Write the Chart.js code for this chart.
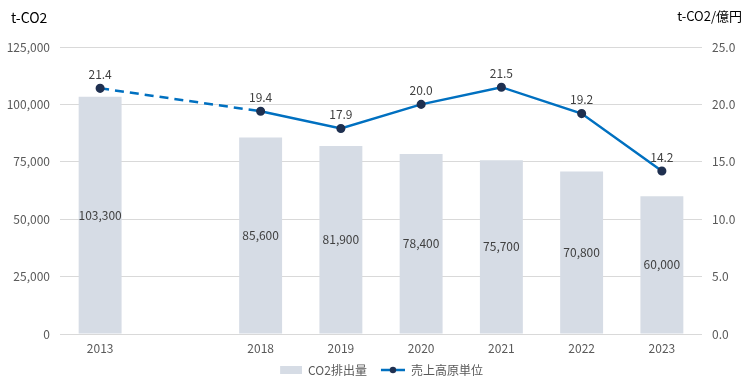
<!DOCTYPE html>
<html><head><meta charset="utf-8">
<script src="https://cdn.jsdelivr.net/npm/chart.js@4"></script>
<style>html,body{margin:0;padding:0;background:#fff;}#wrap{width:753px;height:387px;}</style>
</head><body><div id="wrap"><canvas id="c" width="753" height="387"></canvas></div>
<script>
const categories = ['2013', '', '2018', '2019', '2020', '2021', '2022', '2023'];
const co2Emissions = [103300, null, 85600, 81900, 78400, 75700, 70800, 60000];
const intensity = [21.4, null, 19.4, 17.9, 20.0, 21.5, 19.2, 14.2];
const leftTicks = [0, 25000, 50000, 75000, 100000, 125000];
const rightTicks = [0, 5, 10, 15, 20, 25];
const seriesNames = ['CO2排出量', '売上高原単位'];
const axisTitles = ['t-CO2', 't-CO2/億円'];

const FONT = '"Noto Sans CJK JP", "Noto Sans", sans-serif';
const BAR_COLOR = '#D6DCE5';
const LINE_COLOR = '#0070C0';
const POINT_COLOR = '#1F3050';

function makeIcon(kind) {
  const cv = document.createElement('canvas');
  cv.width = 32; cv.height = 8;
  const g = cv.getContext('2d');
  if (kind === 'bar') {
    g.fillStyle = BAR_COLOR; g.fillRect(10, 0, 22, 8);
  } else {
    g.strokeStyle = LINE_COLOR; g.lineWidth = 2.5;
    g.beginPath(); g.moveTo(8, 4); g.lineTo(32, 4); g.stroke();
    g.fillStyle = POINT_COLOR; g.beginPath(); g.arc(20, 4, 3.2, 0, Math.PI * 2); g.fill();
  }
  return cv;
}

const labelPlugin = {
  id: 'labels',
  afterDatasetsDraw(chart) {
    const ctx = chart.ctx;
    ctx.save();
    ctx.font = '12px ' + FONT;
    ctx.fillStyle = '#404040';
    ctx.textAlign = 'center';
    ctx.textBaseline = 'middle';
    const barMeta = chart.getDatasetMeta(1);
    barMeta.data.forEach((el, i) => {
      const v = co2Emissions[i];
      if (v == null) return;
      const yMid = (el.y + el.base) / 2;
      ctx.fillText(v.toLocaleString('en-US'), el.x, yMid);
    });
    const lineMeta = chart.getDatasetMeta(0);
    lineMeta.data.forEach((el, i) => {
      const v = intensity[i];
      if (v == null) return;
      ctx.fillText(v.toFixed(1), el.x, el.y - 14);
    });
    ctx.fillStyle = '#000';
    ctx.font = '14px ' + FONT;
    ctx.textAlign = 'left';
    ctx.fillText(axisTitles[0], 11, 18);
    ctx.textAlign = 'right';
    ctx.font = '13px ' + FONT;
    ctx.fillText(axisTitles[1], 742, 16);
    ctx.restore();
  }
};

new Chart(document.getElementById('c'), {
  data: {
    labels: categories,
    datasets: [
      {
        type: 'line', label: seriesNames[1], data: intensity, yAxisID: 'y1', order: 0,
        borderColor: LINE_COLOR, borderWidth: 2.5, spanGaps: true,
        pointBackgroundColor: POINT_COLOR, pointBorderColor: POINT_COLOR, pointRadius: 3.3,
        segment: { borderDash: c => (c.p0.skip || c.p1.skip || c.p0DataIndex < 2) ? [9, 6] : undefined }
      },
      {
        type: 'bar', label: seriesNames[0], data: co2Emissions, yAxisID: 'y', order: 1,
        backgroundColor: BAR_COLOR, barPercentage: 0.535, categoryPercentage: 1.0
      }
    ]
  },
  options: {
    responsive: false, animation: false,
    layout: { padding: { top: 47, left: 0, right: 0, bottom: 1 } },
    plugins: {
      tooltip: { enabled: false },
      legend: {
        position: 'bottom',
        labels: {
          font: { family: FONT, size: 12 }, color: '#595959', usePointStyle: true, padding: 6,
          pointStyleWidth: 32,
          generateLabels(chart) {
            return [
              { text: seriesNames[0], pointStyle: makeIcon('bar'), datasetIndex: 1, fontColor: '#595959', hidden: false, lineWidth: 0, strokeStyle: 'transparent', fillStyle: BAR_COLOR },
              { text: seriesNames[1], pointStyle: makeIcon('line'), datasetIndex: 0, fontColor: '#595959', hidden: false, lineWidth: 0, strokeStyle: 'transparent', fillStyle: LINE_COLOR }
            ];
          }
        }
      }
    },
    scales: {
      x: {
        grid: { display: false, drawTicks: false }, border: { display: false },
        afterFit: s => { s.height = 24; },
        ticks: { font: { family: FONT, size: 12 }, color: '#595959', padding: 7, maxRotation: 0 }
      },
      y: {
        position: 'left', min: 0, max: 125000,
        afterBuildTicks: s => { s.ticks = leftTicks.map(v => ({ value: v })); },
        afterFit: s => { s.width = 60; },
        grid: { color: '#D9D9D9', lineWidth: 1, drawTicks: false }, border: { display: false },
        ticks: { font: { family: FONT, size: 12 }, color: '#595959', padding: 10, callback: v => v.toLocaleString('en-US') }
      },
      y1: {
        position: 'right', min: 0, max: 25,
        afterBuildTicks: s => { s.ticks = rightTicks.map(v => ({ value: v })); },
        afterFit: s => { s.width = 51; },
        grid: { display: false, drawTicks: false }, border: { display: false },
        ticks: { font: { family: FONT, size: 12 }, color: '#595959', padding: 10, callback: v => v.toFixed(1) }
      }
    }
  },
  plugins: [labelPlugin]
});
</script></body></html>
